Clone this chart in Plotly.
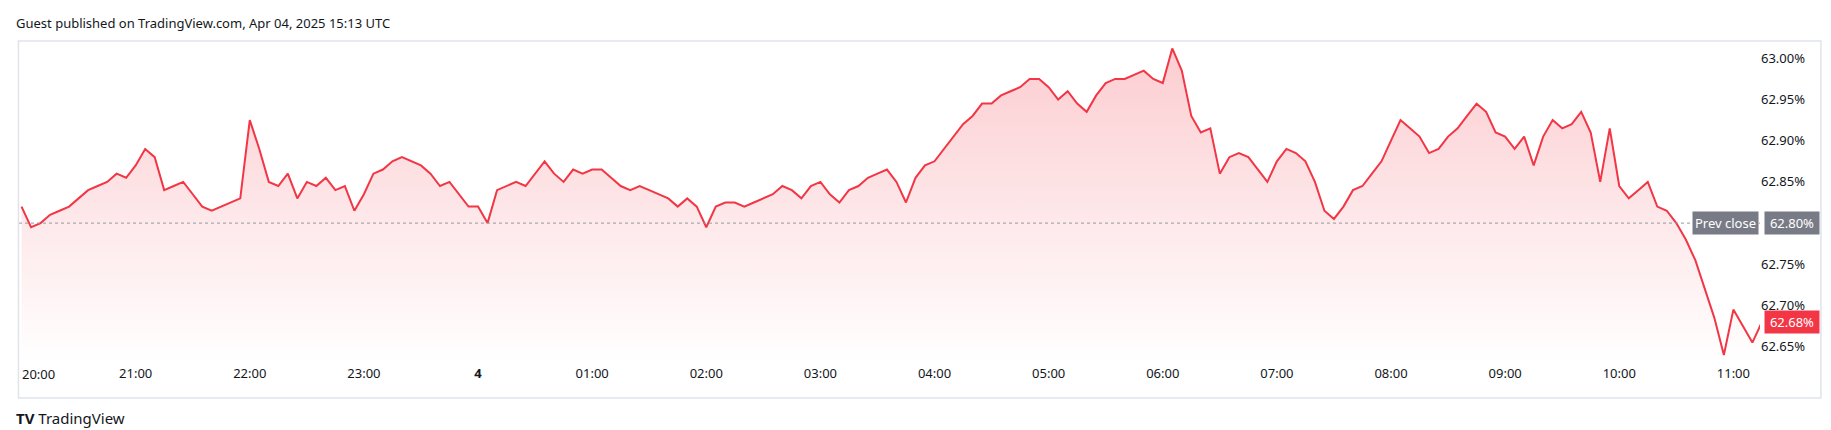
import pandas as pd
import plotly.graph_objects as go

# 5-minute readings, 2025-04-03 20:00 -> 2025-04-04 11:10 (percent)
h20 = [62.82, 62.795, 62.80, 62.81, 62.815, 62.82, 62.83, 62.84, 62.845, 62.85, 62.86, 62.855]
h21 = [62.87, 62.89, 62.88, 62.84, 62.845, 62.85, 62.835, 62.82, 62.815, 62.82, 62.825, 62.83]
h22 = [62.925, 62.89, 62.85, 62.845, 62.86, 62.83, 62.85, 62.845, 62.855, 62.84, 62.845, 62.815]
h23 = [62.835, 62.86, 62.865, 62.875, 62.88, 62.875, 62.87, 62.86, 62.845, 62.85, 62.835, 62.82]
h00 = [62.82, 62.80, 62.84, 62.845, 62.85, 62.845, 62.86, 62.875, 62.86, 62.85, 62.865, 62.86]
h01 = [62.865, 62.865, 62.855, 62.845, 62.84, 62.845, 62.84, 62.835, 62.83, 62.82, 62.83, 62.82]
h02 = [62.795, 62.82, 62.825, 62.825, 62.82, 62.825, 62.83, 62.835, 62.845, 62.84, 62.83, 62.845]
h03 = [62.85, 62.835, 62.825, 62.84, 62.845, 62.855, 62.86, 62.865, 62.85, 62.825, 62.855, 62.87]
h04 = [62.875, 62.89, 62.905, 62.92, 62.93, 62.945, 62.945, 62.955, 62.96, 62.965, 62.975, 62.975]
h05 = [62.965, 62.95, 62.96, 62.945, 62.935, 62.955, 62.97, 62.975, 62.975, 62.98, 62.985, 62.975]
h06 = [62.97, 63.012, 62.985, 62.93, 62.91, 62.915, 62.86, 62.88, 62.885, 62.88, 62.865, 62.85]
h07 = [62.875, 62.89, 62.885, 62.875, 62.85, 62.815, 62.805, 62.82, 62.84, 62.845, 62.86, 62.875]
h08 = [62.90, 62.925, 62.915, 62.905, 62.885, 62.89, 62.905, 62.915, 62.93, 62.945, 62.935, 62.91]
h09 = [62.905, 62.89, 62.905, 62.87, 62.905, 62.925, 62.915, 62.92, 62.935, 62.91, 62.85, 62.915]
h10 = [62.845, 62.83, 62.84, 62.85, 62.82, 62.815, 62.80, 62.78, 62.755, 62.72, 62.685, 62.64]
h11 = [62.695, 62.675, 62.655, 62.68]

values = h20 + h21 + h22 + h23 + h00 + h01 + h02 + h03 + h04 + h05 + h06 + h07 + h08 + h09 + h10 + h11
times = pd.date_range("2025-04-03 20:00", periods=len(values), freq="5min")

prev_close = 62.80
last_value = 62.68

tick_times = pd.date_range("2025-04-03 20:00", "2025-04-04 11:00", freq="1h")
tick_text = [t.strftime("%H:%M") for t in tick_times]
tick_text[4] = "<b>4</b>"
y_ticks = [62.65, 62.70, 62.75, 62.85, 62.90, 62.95, 63.00]  # 62.80 sits under the prev-close tag

red = "#f23645"
y_lo, y_hi = 62.629, 63.021

fig = go.Figure()
fig.add_trace(go.Scatter(x=times, y=[y_lo] * len(values), mode="lines",
                         line=dict(width=0), hoverinfo="skip", showlegend=False))
fig.add_trace(go.Scatter(
    x=times, y=values, mode="lines", line=dict(color=red, width=2),
    fill="tonexty",
    fillgradient=dict(type="vertical",
                      colorscale=[[0, "rgba(242,54,69,0.0)"], [1, "rgba(242,54,69,0.25)"]]),
    showlegend=False))

fig.add_hline(y=prev_close, line=dict(color="#9598a1", width=1, dash="dot"))

fig.update_xaxes(range=[pd.Timestamp("2025-04-03 19:58:40"), pd.Timestamp("2025-04-04 11:14")],
                 tickvals=tick_times[1:], ticktext=tick_text[1:], showgrid=False, zeroline=False,
                 tickfont=dict(size=13, color="#131722"), ticks="", showline=False,
                 automargin=False)
fig.update_yaxes(range=[y_lo, y_hi], side="right", tickvals=y_ticks,
                 ticktext=[f"{v:.2f}%" for v in y_ticks], showgrid=False, zeroline=False,
                 tickfont=dict(size=13, color="#131722"), ticks="", automargin=False)

# first time label sits flush with the left edge
fig.add_annotation(xref="x", yref="paper", x=tick_times[0], y=0, xanchor="left", yanchor="middle",
                   yshift=-10, xshift=-2, text=tick_text[0], showarrow=False,
                   font=dict(size=13, color="#131722"))

fig.add_annotation(xref="paper", yref="y", x=0.9995, y=prev_close, xanchor="right",
                   text="Prev close", showarrow=False, bgcolor="#787b86",
                   font=dict(color="white", size=13), borderpad=2)
fig.add_annotation(xref="paper", yref="y", x=1.0024, y=prev_close, xanchor="left",
                   text=f"{prev_close:.2f}%", showarrow=False, bgcolor="#787b86",
                   font=dict(color="white", size=13), borderpad=2, width=50)
fig.add_annotation(xref="paper", yref="y", x=1.0024, y=last_value, xanchor="left",
                   text=f"{last_value:.2f}%", showarrow=False, bgcolor=red,
                   font=dict(color="white", size=13), borderpad=2, width=50)

fig.add_shape(type="rect", xref="paper", yref="paper", x0=-0.0003, x1=1.035, y0=-0.105, y1=1.0,
              line=dict(color="#e0e3eb", width=1.5))
fig.add_annotation(xref="paper", yref="paper", x=-0.003, y=1.055, xanchor="left", yanchor="middle",
                   text="Guest published on TradingView.com, Apr 04, 2025 15:13 UTC",
                   showarrow=False, font=dict(size=13, color="#131722"))
fig.add_annotation(xref="paper", yref="paper", x=-0.003, y=-0.167, xanchor="left", yanchor="middle",
                   text="<b>TV</b> TradingView", showarrow=False,
                   font=dict(size=15, color="#131722"))

fig.update_layout(width=1831, height=430, margin=dict(l=11, r=79, t=33, b=74),
                  plot_bgcolor="white", paper_bgcolor="white",
                  font=dict(family="Noto Sans, sans-serif"))
fig.write_html("out.html")
